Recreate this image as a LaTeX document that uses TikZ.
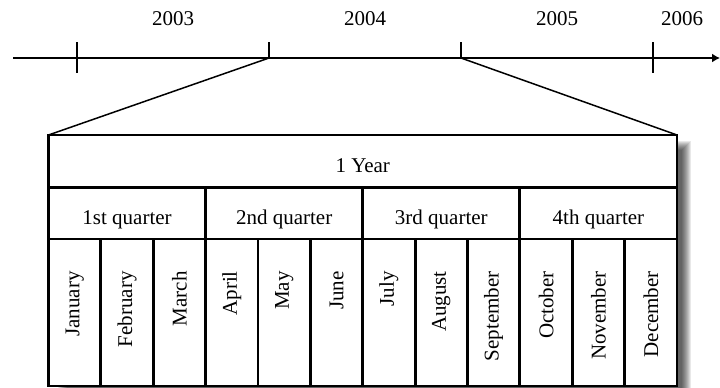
\documentclass[tikz,border=0pt]{standalone}
\usepackage{fontspec}
\setmainfont{Liberation Serif}
\usetikzlibrary{arrows.meta}
\newcommand\diagfont{\fontsize{21}{25}\selectfont}
\begin{document}
\begin{tikzpicture}[x=1pt,y=-1pt,
  axisline/.style={line width=1.5pt},
  zoomline/.style={line width=1.5pt},
  cell/.style={draw, line width=2.8pt, fill=white, inner sep=0pt, outer sep=0pt,
    text height=22pt, text depth=0pt, font=\diagfont},
  yearlbl/.style={anchor=base, inner sep=0pt, font=\diagfont},
  monthlbl/.style={rotate=90, anchor=east, inner sep=0pt, font=\diagfont},
  shadowlayer/.style={fill=black, opacity=0.09}
]
\useasboundingbox (0,0) rectangle (720,388);

% time axis with year ticks
\coordinate (axstart) at (13,58);
\coordinate (axend) at (720,58);
\coordinate (t1) at (77,58);
\coordinate (t2) at (269,58);
\coordinate (t3) at (461,58);
\coordinate (t4) at (653,58);
\draw[axisline, -{Latex[length=8pt,width=9pt]}] (axstart) -- (axend);
\draw[axisline] (t1) ++(0,-16) -- ++(0,31);
\draw[axisline] (t2) -- ++(0,-16);
\draw[axisline] (t3) -- ++(0,-16);
\draw[axisline] (t4) ++(0,-16) -- ++(0,31);

\node[yearlbl] (y2003) at (173,25) {2003};
\node[yearlbl] (y2004) at (365,25) {2004};
\node[yearlbl] (y2005) at (557,25) {2005};
\node[yearlbl] (y2006) at (682,25) {2006};

% soft shadow to the right of the table
\foreach \k in {0,...,9}
  \fill[shadowlayer] (58+\k,141+\k) rectangle (691-\k,400);

% table: year, quarters, months
\def\tl{48.5}
\def\tw{628.5}
\pgfmathsetmacro\qw{\tw/4}
\pgfmathsetmacro\mw{\tw/12}

\node[cell, minimum width=\tw pt, minimum height=52.5pt] (year)
  at (\tl+\tw/2,161.25) {1 Year};

\foreach \q/\txt in {0/1st quarter,1/2nd quarter,2/3rd quarter,3/4th quarter}
  \node[cell, minimum width=\qw pt, minimum height=51.5pt] (q\q)
    at (\tl+\qw/2+\q*\qw,213.25) {\txt};

\foreach \m/\txt in {0/January,1/February,2/March,3/April,4/May,5/June,
                     6/July,7/August,8/September,9/October,10/November,11/December}{
  \node[cell, minimum width=\mw pt, minimum height=147pt] (c\m)
    at (\tl+\mw/2+\m*\mw,312.5) {};
  \node[monthlbl] (m\m) at ([yshift=-32pt]c\m.north) {\txt};
}

% zoom lines from the 2004 interval to the table
\draw[zoomline] (t2) -- (year.north west);
\draw[zoomline] (t3) -- (year.north east);
\end{tikzpicture}
\end{document}
